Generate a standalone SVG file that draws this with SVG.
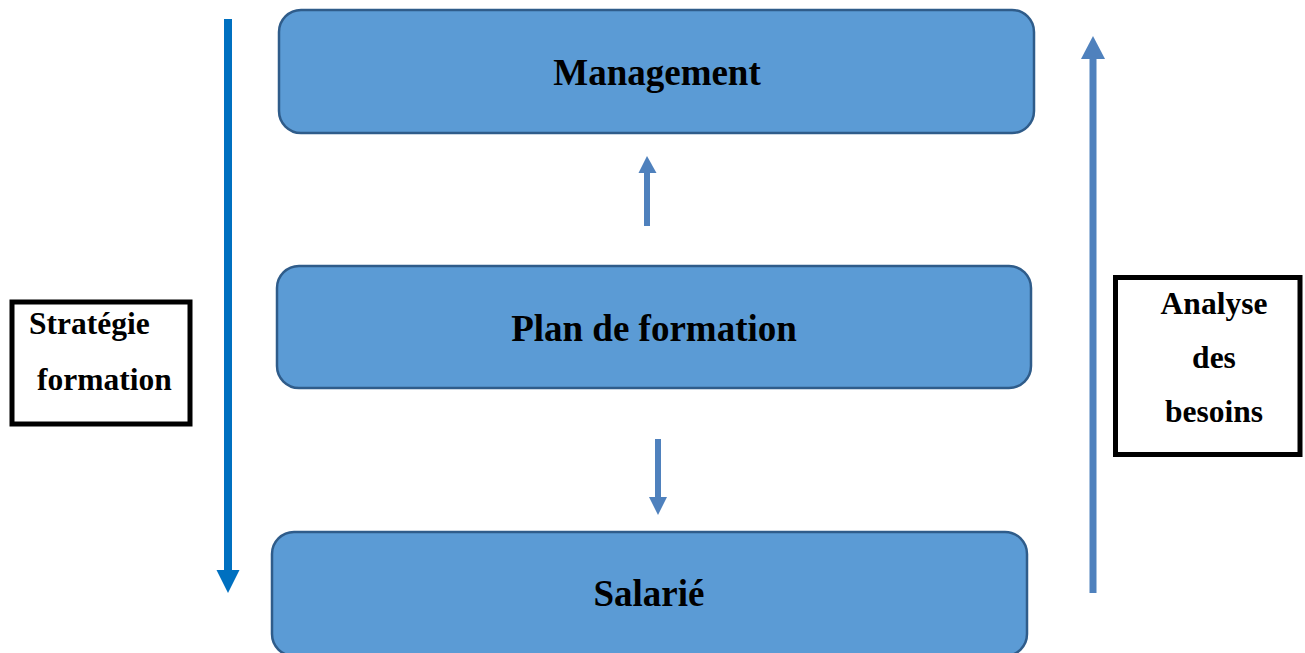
<svg xmlns="http://www.w3.org/2000/svg" width="1305" height="653" viewBox="0 0 1305 653">
  <style>
    .node { fill: #5b9bd5; stroke: #2f5c8a; stroke-width: 2.5; }
    .nodeText { font-family: "Liberation Serif", "Times New Roman", serif; font-weight: bold; font-size: 37px; fill: #000; text-anchor: middle; }
    .label { fill: #fff; stroke: #000; stroke-width: 5; }
    .labelText { font-family: "Liberation Serif", "Times New Roman", serif; font-weight: bold; font-size: 31.5px; fill: #000; }
    .flowA { stroke: #0070c0; stroke-width: 8; fill: none; }
    .flowB { stroke: #4f81bd; stroke-width: 7; fill: none; }
    .flowC { stroke: #4f81bd; stroke-width: 6; fill: none; }
  </style>

  <!-- side labels -->
  <g id="strategie">
    <rect class="label" x="12" y="302" width="178" height="122"/>
    <text class="labelText" x="29" y="334">Stratégie</text>
    <text class="labelText" x="37" y="390">formation</text>
  </g>
  <g id="analyse">
    <rect class="label" x="1115.5" y="277.5" width="184.5" height="177"/>
    <text class="labelText" x="1214" y="314" text-anchor="middle">Analyse</text>
    <text class="labelText" x="1214" y="368" text-anchor="middle">des</text>
    <text class="labelText" x="1214" y="422" text-anchor="middle">besoins</text>
  </g>

  <!-- main nodes -->
  <g id="management">
    <rect class="node" x="279" y="10" width="755" height="123" rx="22"/>
    <text class="nodeText" x="657" y="85">Management</text>
  </g>
  <g id="plan">
    <rect class="node" x="277" y="266" width="754" height="122" rx="22"/>
    <text class="nodeText" x="654" y="341">Plan de formation</text>
  </g>
  <g id="salarie">
    <rect class="node" x="272" y="532" width="755" height="124" rx="22"/>
    <text class="nodeText" x="649" y="606">Salarié</text>
  </g>

  <!-- connectors -->
  <g id="connectors">
    <line class="flowA" x1="228" y1="19" x2="228" y2="572"/>
    <polygon points="216.5,570 239.5,570 228,593" fill="#0070c0"/>

    <line class="flowB" x1="1093" y1="593" x2="1093" y2="58"/>
    <polygon points="1081,59 1105,59 1093,36" fill="#4f81bd"/>

    <line class="flowC" x1="647" y1="226" x2="647" y2="172"/>
    <polygon points="638.5,173 656.5,173 647,156" fill="#4f81bd"/>

    <line class="flowC" x1="658" y1="439" x2="658" y2="498"/>
    <polygon points="649,497 667,497 658,515" fill="#4f81bd"/>
  </g>
</svg>
